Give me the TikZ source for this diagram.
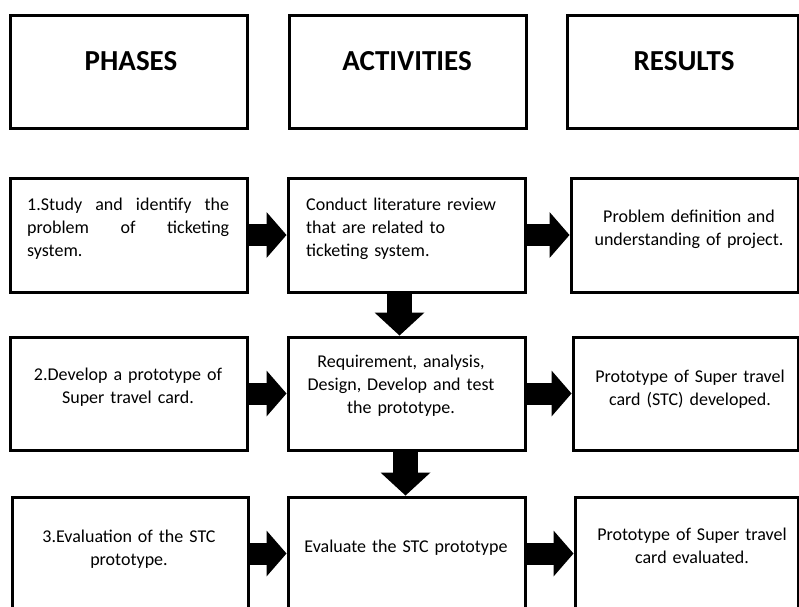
\documentclass[tikz,border=0pt]{standalone}
\usepackage{fontspec}
\setmainfont{Carlito}
\usetikzlibrary{arrows.meta,positioning}

\begin{document}
\begin{tikzpicture}[x=1pt, y=-1pt,
        every node/.style={inner sep=0pt},
        box/.style={draw, line width=3pt, minimum width=#1, minimum height=113pt},
        box/.default=237pt,
        head/.style={font=\fontsize{29}{34}\selectfont\bfseries, anchor=base},
        txt/.style={font=\fontsize{18}{23}\selectfont, anchor=base, align=center, text width=#1},
        txt/.default=225pt,
        fatarrow/.style={line width=22pt, -{Triangle[length=20pt, width=46pt, line width=0pt]}},
        downarrow/.style={line width=25pt, -{Triangle[length=23pt, width=50pt, line width=0pt]}}
    ]

    \useasboundingbox (0,0) rectangle (799,606);
    \clip (0,0) rectangle (799,606);

    % column heads
    \node[box] (phases) at (128.5,71.5) {};
    \node[box] (activities) at (407.5,71.5) {};
    \node[box=231pt] (results) at (682.5,71.5) {};
    \node[head] (tphases) at (131,70) {PHASES};
    \node[head] (tactivities) at (407,70) {ACTIVITIES};
    \node[head] (tresults) at (684,70) {RESULTS};

    % row 1
    \node[box, minimum height=114pt] (p1) at (128.5,235) {};
    \node[box, minimum height=114pt] (a1) at (406.5,235) {};
    \node[box=227pt, minimum height=114pt] (r1) at (684.5,235) {};
    \node[txt=202pt, anchor=base west, align=justify] (tp1) at (27,210)
        {1.Study and identify the\linebreak problem of ticketing\linebreak system.};
    \node[txt=202pt, anchor=base west, align=left] (ta1) at (306,210)
        {Conduct literature review\\that are related to\\ticketing system.};
    \node[txt] (tr1) at (689,222) {Problem definition and\\understanding of project.};

    % row 2
    \node[box] (p2) at (128.5,393.5) {};
    \node[box] (a2) at (406.5,393.5) {};
    \node[box=225pt] (r2) at (685.5,393.5) {};
    \node[txt] (tp2) at (128,380) {2.Develop a prototype of\\Super travel card.};
    \node[txt] (ta2) at (401,367) {Requirement, analysis,\\Design, Develop and test\\the prototype.};
    \node[txt] (tr2) at (690,382) {Prototype of Super travel\\card (STC) developed.};

    % row 3
    \node[box=236pt] (p3) at (130,553.5) {};
    \node[box] (a3) at (406.5,553.5) {};
    \node[box=223pt] (r3) at (686.5,553.5) {};
    \node[txt] (tp3) at (129,542) {3.Evaluation of the STC\\prototype.};
    \node[txt] (ta3) at (406,552) {Evaluate the STC prototype};
    \node[txt] (tr3) at (692,540) {Prototype of Super travel\\card evaluated.};

    % block arrows
    \foreach \i in {1,2,3} {
        \draw[fatarrow] (p\i.east) -- (a\i.west);
        \draw[fatarrow] (a\i.east) -- (r\i.west);
    }
    \draw[downarrow] ([xshift=-7pt]a1.south) -- ([xshift=-7pt]a2.north);
    \draw[downarrow] ([xshift=-1pt]a2.south) -- ([xshift=-1pt]a3.north);

\end{tikzpicture}
\end{document}
